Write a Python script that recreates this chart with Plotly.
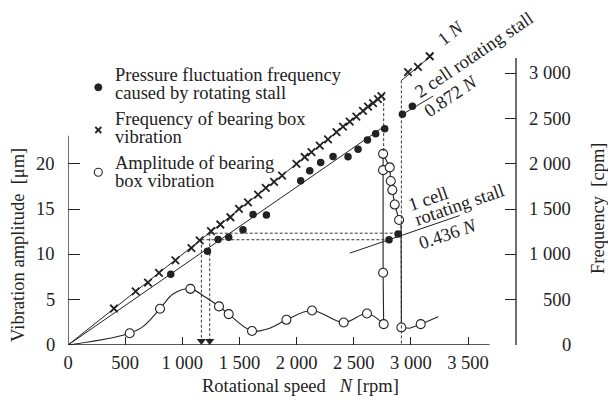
import plotly.graph_objects as go

# ---------------- data ----------------
# amplitude of bearing box vibration (markers)  [rpm], [um]
amp_rpm = [540, 805, 1071, 1321, 1406, 1610, 1911, 2135, 2412, 2616, 2762,
           2757, 2757, 2757, 2815, 2824, 2838, 2859, 2897, 2917, 3086]
amp_um = [1.3, 4.0, 6.2, 4.26, 3.41, 1.55, 2.78, 3.81, 2.48, 3.48, 2.3,
          7.97, 19.3, 21.1, 19.6, 18.1, 17.1, 15.5, 13.8, 1.93, 2.3]

# amplitude curve (drawn line)
curve_lo_rpm = [0, 365, 540, 656, 805, 919, 1071, 1200, 1321, 1406, 1610, 1765, 1911, 2135, 2412, 2616, 2762]
curve_lo_um = [0, 0.74, 1.3, 2.03, 4.0, 5.63, 6.2, 5.3, 4.26, 3.41, 1.55, 1.85, 2.78, 3.81, 2.48, 3.48, 2.3]
curve_hi_rpm = [2762, 2757, 2757, 2757, 2815, 2824, 2838, 2859, 2897, 2914, 2917]
curve_hi_um = [2.3, 7.97, 19.3, 21.1, 19.6, 18.1, 17.1, 15.5, 13.8, 13.2, 1.93]
curve_end_rpm = [2917, 2990, 3086, 3240]
curve_end_um = [1.93, 1.85, 2.3, 3.12]

# frequency of bearing box vibration  [rpm], [cpm]
brg_rpm = [402, 592, 700, 796, 940, 1080, 1152, 1251, 1333, 1421, 1496, 1575,
           1663, 1730, 1803, 1873, 1999, 2071, 2130, 2203, 2275, 2349, 2406,
           2465, 2523, 2581, 2625, 2669, 2712, 2742, 2975, 3062, 3165]
brg_cpm = [403, 593, 689, 795, 934, 1069, 1154, 1256, 1330, 1410, 1502, 1575,
           1660, 1735, 1800, 1870, 2000, 2075, 2130, 2200, 2270, 2350, 2410,
           2465, 2520, 2585, 2630, 2670, 2715, 2748, 3011, 3069, 3187]

# pressure fluctuation frequency caused by rotating stall  [rpm], [cpm]
stall_rpm = [899, 1220, 1313, 1406, 1531, 1619, 1736, 2036, 2115, 2211, 2319,
             2450, 2538, 2620, 2692, 2771, 2809, 2888, 2926, 3013]
stall_cpm = [780, 1036, 1165, 1190, 1271, 1440, 1436, 1813, 1923, 2014, 2080,
             2077, 2161, 2264, 2333, 2388, 1162, 1225, 2546, 2634]

# reference lines  [rpm], [cpm]
line_1n_rpm = [0, 2760]
line_1n_cpm = [0, 2760]
line_0872_rpm = [0, 2771]
line_0872_cpm = [0, 2416]
line_1n_b_rpm = [2917, 3195]
line_1n_b_cpm = [2920, 3210]
line_0872_b_rpm = [2926, 3194]
line_0872_b_cpm = [2546, 2747]
line_0436_rpm = [2466, 3427]
line_0436_cpm = [1014, 1429]

# dashed guides
res_rpm = [1167, 1240]          # resonance speeds (arrows)
res_cpm = [1162, 1234]          # 1-cell stall frequencies
res_end_rpm = [2809, 2888]
jump_rpm = [2762, 2917]

x_ticks = [0, 500, 1000, 1500, 2000, 2500, 3000, 3500]
x_ticklabels = ["0", "500", "1 000", "1 500", "2 000", "2 500", "3 000", "3 500"]
y_ticks = [0, 5, 10, 15, 20]
y_ticklabels = ["0", "5", "10", "15", "20"]
y2_ticks = [0, 500, 1000, 1500, 2000, 2500, 3000]
y2_ticklabels = ["0", "500", "1 000", "1 500", "2 000", "2 500", "3 000"]

# ---------------- layout geometry ----------------
W, H = 608, 405
X0, X1, Y0, Y1 = 68, 516, 345, 10
XMAX = (X1 - X0) / 0.11429
YMAX = (Y0 - Y1) / 9.06
Y2MAX = YMAX * 100

def fx(px):
    return (px - X0) / (X1 - X0)

def fy(py):
    return (Y0 - py) / (Y0 - Y1)

FONT = "Liberation Serif"
FS = 18.5
INK = "#222222"

fig = go.Figure()

def line(xs, ys, axis="y2", dash="solid", width=1.0, shape="linear"):
    fig.add_trace(go.Scatter(x=xs, y=ys, yaxis=axis, mode="lines",
                             line=dict(color=INK, width=width, dash=dash, shape=shape),
                             hoverinfo="skip", showlegend=False))

# reference lines
line(line_1n_rpm, line_1n_cpm)
line(line_0872_rpm, line_0872_cpm)
line(line_1n_b_rpm, line_1n_b_cpm)
line(line_0872_b_rpm, line_0872_b_cpm)
line(line_0436_rpm, line_0436_cpm)

# dashed guides
DASH = "3px,2px"
for r, c, e in zip(res_rpm, res_cpm, res_end_rpm):
    line([r, e], [c, c], dash=DASH, width=0.9)
    line([r, r], [c, 0], dash=DASH, width=0.9)
line([jump_rpm[0], jump_rpm[0]], [line_1n_cpm[1] + 20, 2130], dash=DASH, width=0.9)
line([jump_rpm[1], jump_rpm[1]], [line_1n_b_cpm[0], 0], dash=DASH, width=0.9)

# amplitude curve
line(curve_lo_rpm, curve_lo_um, axis="y", shape="spline", width=1.1)
line(curve_hi_rpm, curve_hi_um, axis="y", width=1.1)
line(curve_end_rpm, curve_end_um, axis="y", width=1.1)

# arrows at resonance speeds
fig.add_trace(go.Scatter(x=res_rpm, y=[0.45] * len(res_rpm), yaxis="y", mode="markers",
                         marker=dict(symbol="triangle-down", size=8, color=INK),
                         hoverinfo="skip", showlegend=False))

# markers
fig.add_trace(go.Scatter(x=brg_rpm, y=brg_cpm, yaxis="y2", mode="markers",
                         marker=dict(symbol="x-thin", size=7.5, line=dict(color=INK, width=1.8)),
                         showlegend=False))
fig.add_trace(go.Scatter(x=stall_rpm, y=stall_cpm, yaxis="y2", mode="markers",
                         marker=dict(symbol="circle", size=7.5, color=INK),
                         showlegend=False))
fig.add_trace(go.Scatter(x=amp_rpm, y=amp_um, yaxis="y", mode="markers",
                         marker=dict(symbol="circle", size=9, color="white",
                                     line=dict(color=INK, width=1.1)),
                         showlegend=False))

shapes = []
# axis lines
shapes.append(dict(type="line", xref="x", yref="y", x0=0, x1=0, y0=0, y1=23.1,
                   line=dict(color=INK, width=1.3)))
shapes.append(dict(type="line", xref="x", yref="y", x0=0, x1=3689, y0=0, y1=0,
                   line=dict(color=INK, width=1.3)))
shapes.append(dict(type="line", xref="paper", yref="y2", x0=1, x1=1, y0=0, y1=3168,
                   line=dict(color=INK, width=1.3)))

# legend symbols
LX = 98.3
shapes.append(dict(type="circle", xref="paper", yref="paper",
                   x0=fx(LX - 3.5), x1=fx(LX + 3.5), y0=fy(87.3 + 3.5), y1=fy(87.3 - 3.5),
                   fillcolor=INK, line=dict(color=INK, width=1)))
for dx in (-1, 1):
    shapes.append(dict(type="line", xref="paper", yref="paper",
                       x0=fx(LX - 3), x1=fx(LX + 3), y0=fy(130 - 3 * dx), y1=fy(130 + 3 * dx),
                       line=dict(color=INK, width=1.8)))
shapes.append(dict(type="circle", xref="paper", yref="paper",
                   x0=fx(LX - 4), x1=fx(LX + 4), y0=fy(172.3 + 4), y1=fy(172.3 - 4),
                   fillcolor="white", line=dict(color=INK, width=1.1)))

ann = []
def txt(t, px, py, angle=0, xanchor="center", size=FS):
    ann.append(dict(text=t, xref="paper", yref="paper", x=fx(px), y=fy(py),
                    xanchor=xanchor, yanchor="middle", textangle=angle, showarrow=False,
                    font=dict(family=FONT, size=size, color=INK)))

# legend texts
LT = 113
txt("Pressure fluctuation frequency", LT, 75, xanchor="left")
txt("caused by rotating stall", LT, 93, xanchor="left")
txt("Frequency of bearing box", LT, 119, xanchor="left")
txt("vibration", LT, 137, xanchor="left")
txt("Amplitude of bearing", LT, 163, xanchor="left")
txt("box vibration", LT, 181, xanchor="left")

# line labels
txt("1 <i>N</i>", 451, 33, angle=-38)
txt("2 cell rotating stall", 474, 55, angle=-34)
txt("0.872 <i>N</i>", 451, 96, angle=-34)
txt("1 cell", 428, 199, angle=-19)
txt("rotating stall", 459, 205, angle=-19)
txt("0.436 <i>N</i>", 448, 234, angle=-19)

# axis titles
txt("Rotational speed\u00a0\u00a0 <i>N</i>\u00a0[rpm]", 300, 386)
txt("Vibration amplitude\u00a0\u00a0[μm]", 18, 245, angle=-90)
txt("Frequency\u00a0\u00a0[cpm]", 598, 208, angle=-90)

# left tick labels (right aligned)
for v, t in zip(y_ticks, y_ticklabels):
    ann.append(dict(text=t, xref="paper", yref="y", x=fx(57), y=v,
                    xanchor="right", yanchor="middle", showarrow=False,
                    font=dict(family=FONT, size=FS, color=INK)))
# right tick labels (right aligned)
for v, t in zip(y2_ticks, y2_ticklabels):
    ann.append(dict(text=t, xref="paper", yref="y2", x=fx(573), y=v,
                    xanchor="right", yanchor="middle", showarrow=False,
                    font=dict(family=FONT, size=FS, color=INK)))

fig.update_layout(
    width=W, height=H,
    margin=dict(l=X0, r=W - X1, t=Y1, b=H - Y0, autoexpand=False),
    paper_bgcolor="white", plot_bgcolor="white",
    font=dict(family=FONT, size=FS, color=INK),
    showlegend=False,
    shapes=shapes, annotations=ann,
    xaxis=dict(range=[0, XMAX], showgrid=False, zeroline=False, showline=False,
               tickmode="array", tickvals=x_ticks, ticktext=x_ticklabels,
               ticks="inside", ticklen=8, tickwidth=1.2, tickcolor=INK,
               ticklabelstandoff=4, tickfont=dict(family=FONT, size=FS, color=INK)),
    yaxis=dict(range=[0, YMAX], showgrid=False, zeroline=False, showline=False,
               tickmode="array", tickvals=y_ticks, showticklabels=False,
               ticks="inside", ticklen=12, tickwidth=1.2, tickcolor=INK),
    yaxis2=dict(range=[0, Y2MAX], overlaying="y", side="right", anchor="x",
                showgrid=False, zeroline=False, showline=False,
                tickmode="array", tickvals=y2_ticks, showticklabels=False,
                ticks="inside", ticklen=11, tickwidth=1.2, tickcolor=INK),
)

fig.write_html("out.html", config={"displayModeBar": False},
               post_script="document.body.style.margin='0';document.body.style.overflow='hidden';")
